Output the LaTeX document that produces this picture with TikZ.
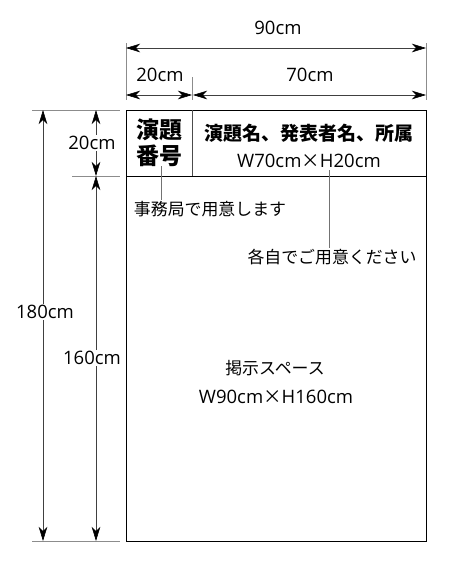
\documentclass[tikz,border=0pt]{standalone}
\usepackage{fontspec}
\setmainfont{Open Sans}
\newfontfamily\jpfont{Noto Sans CJK JP}
\usepackage{tikz}
\usetikzlibrary{arrows.meta,positioning}

\begin{document}
\begin{tikzpicture}[x=1pt,y=-1pt,
	dimline/.style={draw=black!75,line width=0.6pt,{Stealth[length=14pt,width=8.5pt,inset=4pt,black]}-{Stealth[length=14pt,width=8.5pt,inset=4pt,black]}},
	extline/.style={draw=black!45,line width=0.6pt},
	leader/.style={draw=black!55,line width=0.6pt},
	dimlabel/.style={font=\fontsize{18.5}{20}\selectfont,inner sep=1pt},
	boardtext/.style={font=\fontsize{18.5}{20}\selectfont,align=center,inner sep=1pt},
	jptext/.style={font=\jpfont\fontsize{16.9}{20}\selectfont,align=center,inner sep=1pt},
	headtext/.style={font=\jpfont\fontsize{19}{22}\selectfont\bfseries,align=center,inner sep=1pt},
	numtext/.style={font=\jpfont\fontsize{23}{25.5}\selectfont\bfseries,align=center,inner sep=0pt}]
\useasboundingbox (0,0) rectangle (450,568);

% board
\coordinate (tl) at (126,110);
\coordinate (tr) at (426,110);
\coordinate (bl) at (126,541);
\coordinate (br) at (426,541);
\coordinate (ml) at (126,176);
\coordinate (mr) at (426,176);
\coordinate (mt) at (192,110);
\coordinate (mb) at (192,176);
\draw[line width=0.9pt] (tl) rectangle (br);
\draw[line width=0.7pt] (ml) -- (mr);
\draw[line width=0.7pt,black!70] (mt) -- (mb);

% header texts
\node[numtext] (num) at (159,143) {演題\\番号};
\node[headtext] (title) at (309,133) {演題名、発表者名、所属};
\node[boardtext] (titlesize) at (309,161) {W70cm{\jpfont ×}H20cm};
\node[jptext] (space) at (275,368) {掲示スペース};
\node[boardtext] (spacesize) at (276,397) {W90cm{\jpfont ×}H160cm};

% leaders
\node[jptext] (office) at (210,209) {事務局で用意します};
\node[jptext] (self) at (332,257) {各自でご用意ください};
\coordinate (numfoot) at (161,166);
\coordinate (titlefoot) at (329,170);
\draw[leader] (numfoot) -- (numfoot |- office.north);
\draw[leader] (titlefoot) -- (titlefoot |- self.north);

% extension lines
\coordinate (e1a) at (126,43);  \coordinate (e1b) at (126,100);
\coordinate (e2a) at (426,43);  \coordinate (e2b) at (426,100);
\coordinate (e3a) at (192,77);  \coordinate (e3b) at (192,100);
\coordinate (e4a) at (32,110);  \coordinate (e4b) at (120,110);
\coordinate (e5a) at (72,176);  \coordinate (e5b) at (120,176);
\coordinate (e6a) at (32,541);  \coordinate (e6b) at (120,541);
\draw[extline] (e1a) -- (e1b);
\draw[extline] (e2a) -- (e2b);
\draw[extline] (e3a) -- (e3b);
\draw[extline] (e4a) -- (e4b);
\draw[extline] (e5a) -- (e5b);
\draw[extline] (e6a) -- (e6b);

% width dimensions
\coordinate (w90a) at (126,48); \coordinate (w90b) at (426,48);
\coordinate (w20a) at (126,95); \coordinate (w20b) at (192,95);
\coordinate (w70a) at (193,95); \coordinate (w70b) at (426,95);
\draw[dimline] (w90a) -- (w90b);
\draw[dimline] (w20a) -- (w20b);
\draw[dimline] (w70a) -- (w70b);
\node[dimlabel] (l90) at (278,28) {90cm};
\node[dimlabel] (l20w) at (160,75) {20cm};
\node[dimlabel] (l70) at (310,75) {70cm};

% height dimensions
\coordinate (h180a) at (43,110); \coordinate (h180b) at (43,541);
\coordinate (h20a) at (96,110);  \coordinate (h20b) at (96,176);
\coordinate (h160a) at (96,176); \coordinate (h160b) at (96,541);
\draw[dimline] (h180a) -- (h180b);
\draw[dimline] (h20a) -- (h20b);
\draw[dimline] (h160a) -- (h160b);
\node[dimlabel,fill=white] (l180) at (45,312) {180cm};
\node[dimlabel,fill=white] (l20h) at (92,143) {20cm};
\node[dimlabel,fill=white] (l160) at (92,358) {160cm};
\end{tikzpicture}
\end{document}
